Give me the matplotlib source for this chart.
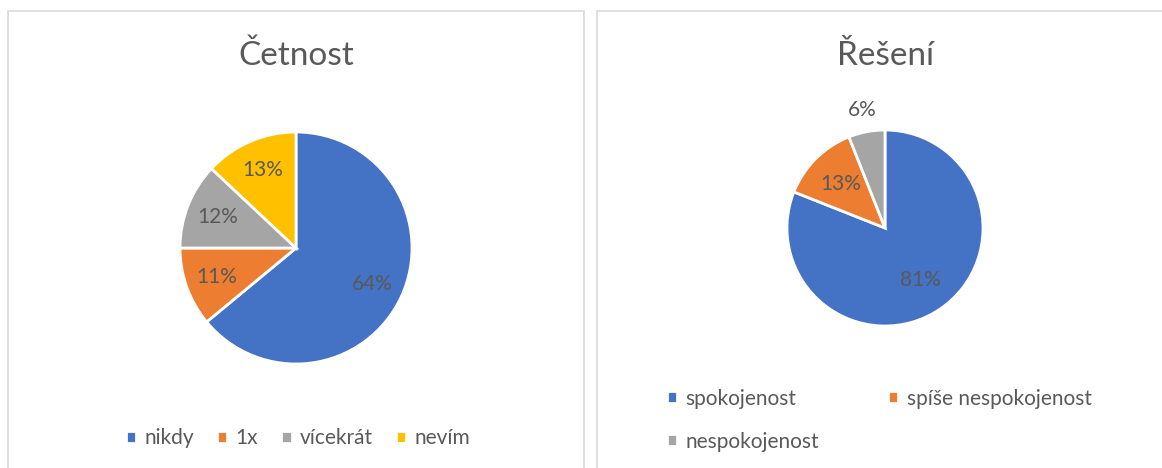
import matplotlib
matplotlib.use("Agg")
import matplotlib.pyplot as plt
from matplotlib.patches import Rectangle

plt.rcParams['font.family'] = ['Lato', 'DejaVu Sans']

# data
cetnost_labels = ["nikdy", "1x", "vícekrát", "nevím"]
cetnost_values = [64, 11, 12, 13]
reseni_labels = ["spokojenost", "spíše nespokojenost", "nespokojenost"]
reseni_values = [81, 13, 6]

barvy = ["#4472C4", "#ED7D31", "#A5A5A5", "#FFC000"]
sediva = "#595959"

W, H = 1162, 468
fig = plt.figure(figsize=(W / 100, H / 100), dpi=100)


def px_axes(cx, cy, r):
    # axes ctvercova kolem stredu (px od leveho horniho rohu)
    return fig.add_axes([(cx - r) / W, (H - cy - r) / H, 2 * r / W, 2 * r / H])


# ramecky panelu
for x0, x1 in [(8, 584), (597, 1175)]:
    fig.patches.append(Rectangle((x0 / W, -0.1), (x1 - x0) / W, 1.1 - 11 / H,
                                 transform=fig.transFigure, fill=False,
                                 edgecolor="#D9D9D9", linewidth=1.2))

# levy graf
ax1 = px_axes(296, 248, 116)
w1, t1, a1 = ax1.pie(cetnost_values, colors=barvy, startangle=90, counterclock=False,
                     autopct="%d%%", pctdistance=0.73,
                     wedgeprops=dict(edgecolor="white", linewidth=2),
                     textprops=dict(color=sediva, fontsize=15))
ax1.set_xlim(-1, 1)
ax1.set_ylim(-1, 1)
fig.text(296 / W, 1 - 56 / H, "Četnost", ha="center", va="center",
         fontsize=24, color=sediva)
fig.legend(w1, cetnost_labels, loc="center", bbox_to_anchor=(298 / W, 1 - 438 / H),
           ncol=4, frameon=False, fontsize=15, handlelength=0.5, handleheight=0.5,
           handletextpad=0.4, columnspacing=1.1, labelcolor=sediva)

# pravy graf
ax2 = px_axes(885, 228, 98)
w2, t2, a2 = ax2.pie(reseni_values, colors=barvy[:3], startangle=90, counterclock=False,
                     autopct="%d%%", pctdistance=0.64,
                     wedgeprops=dict(edgecolor="white", linewidth=2),
                     textprops=dict(color=sediva, fontsize=15))
ax2.set_xlim(-1, 1)
ax2.set_ylim(-1, 1)
x, y = a2[2].get_position()
a2[2].set_position((x / 0.64 * 1.23, y / 0.64 * 1.23))
fig.text(885 / W, 1 - 56 / H, "Řešení", ha="center", va="center",
         fontsize=24, color=sediva)
# poradi po radcich jako v originale
poradi = [0, 2, 1]
fig.legend([w2[i] for i in poradi], [reseni_labels[i] for i in poradi],
           loc="upper left", bbox_to_anchor=(648 / W, 1 - 370 / H),
           ncol=2, frameon=False, fontsize=15, handlelength=0.5, handleheight=0.5,
           handletextpad=0.4, columnspacing=3.3, labelspacing=1.1, labelcolor=sediva)

fig.savefig("out.png", dpi=100)
